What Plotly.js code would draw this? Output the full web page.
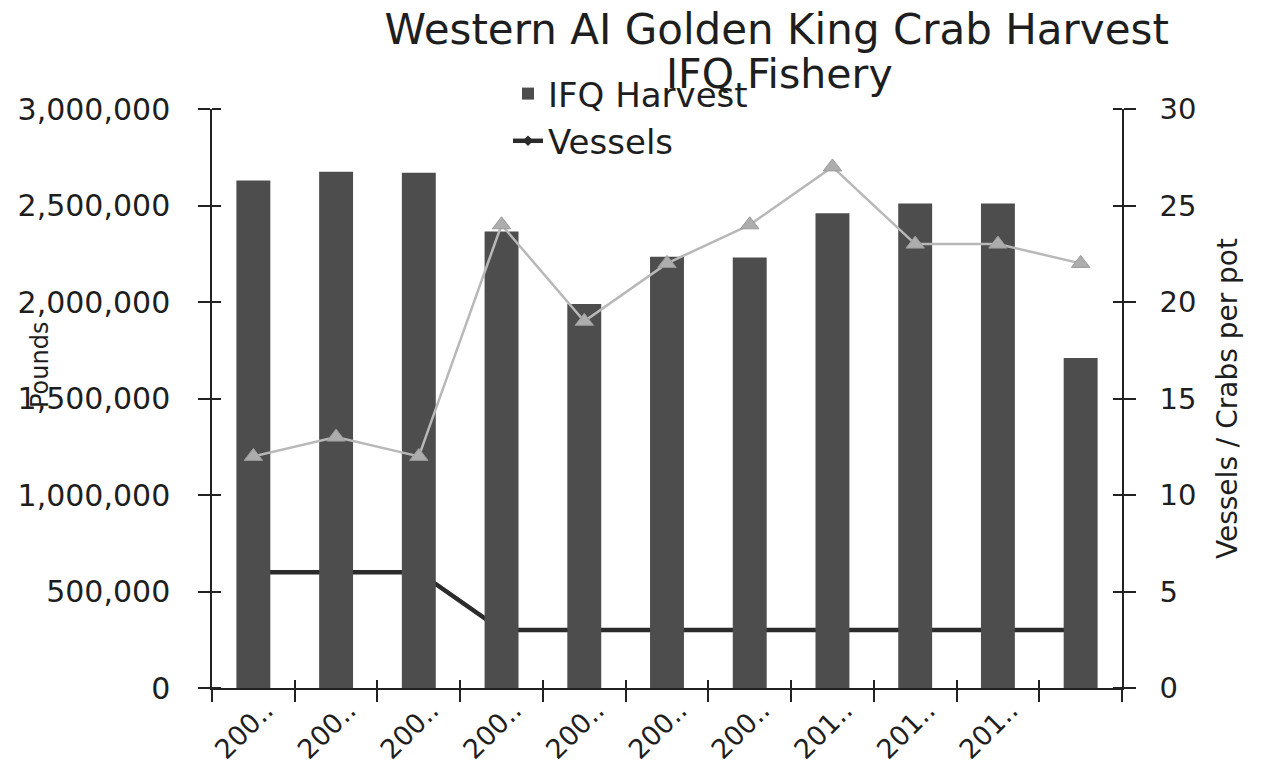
<!DOCTYPE html>
<html>
<head>
<meta charset="utf-8">
<script src="https://cdn.plot.ly/plotly-3.0.1.min.js"></script>
<style>html,body{margin:0;padding:0;background:#fff;}#chart{width:1263px;height:766px;}</style>
</head>
<body>
<div id="chart"></div>
<script>
// ---- data ----
const categories = ["200..", "200..", "200..", "200..", "200..", "200..", "200..", "201..", "201..", "201..", ""];
const harvest = [2630000, 2675000, 2670000, 2365000, 1990000, 2235000, 2230000, 2460000, 2510000, 2510000, 1710000];
const vessels = [6, 6, 6, 3, 3, 3, 3, 3, 3, 3, 3];
const crabsPerPot = [12, 13, 12, 24, 19, 22, 24, 27, 23, 23, 22];
const leftTicks = [0, 500000, 1000000, 1500000, 2000000, 2500000, 3000000];
const rightTicks = [0, 5, 10, 15, 20, 25, 30];

const xIdx = categories.map((_, i) => i);
const boundaries = categories.map((_, i) => i - 0.5).concat([categories.length - 0.5]);

const FONT = 'DejaVu Sans';
const INK = '#1e1e1e';
const AX = '#222222';

const traces = [
  {
    type: 'bar', name: 'IFQ Harvest', x: xIdx, y: harvest,
    marker: {color: '#4d4d4d', line: {width: 0}},
    xaxis: 'x', yaxis: 'y2', hoverinfo: 'skip'
  },
  {
    type: 'scatter', mode: 'lines+markers', name: 'Vessels', x: xIdx, y: vessels,
    line: {color: '#2b2b2b', width: 4.5},
    marker: {symbol: 'diamond', size: 8, color: '#2b2b2b'},
    xaxis: 'x', yaxis: 'y', hoverinfo: 'skip'
  },
  {
    type: 'scatter', mode: 'lines+markers', name: 'Crabs per pot', showlegend: false,
    x: xIdx, y: crabsPerPot,
    line: {color: '#b8b8b8', width: 2.5},
    marker: {symbol: 'triangle-up', size: 16, color: '#adadad', line: {color: '#9a9a9a', width: 1}},
    xaxis: 'x2', yaxis: 'y3', hoverinfo: 'skip'
  }
];

const tickCommon = {ticks: 'outside', ticklen: 12, tickwidth: 1.5, tickcolor: AX,
  showline: true, linecolor: AX, linewidth: 1.5, showgrid: false, zeroline: false};

const layout = {
  width: 1263, height: 766,
  margin: {l: 212, r: 141, t: 109, b: 78},
  paper_bgcolor: '#ffffff', plot_bgcolor: '#ffffff',
  font: {family: FONT, color: INK},
  title: {
    text: 'Western AI Golden King Crab Harvest',
    font: {family: FONT, size: 42, color: INK},
    xref: 'container', x: 0.615, xanchor: 'center',
    yref: 'container', y: 0.962, yanchor: 'middle'
  },
  showlegend: true,
  legend: {
    x: (508 - 212) / 910, xanchor: 'left', y: 1.076, yanchor: 'top',
    font: {family: FONT, size: 34, color: INK},
    bgcolor: 'rgba(0,0,0,0)', traceorder: 'normal'
  },
  bargap: 0.59,
  xaxis: {
    range: [-0.5, 10.5], tickmode: 'array', tickvals: xIdx, ticktext: categories,
    tickangle: -45, ticks: '', tickfont: {family: FONT, size: 27, color: INK},
    ticklabelshift: 12, ticklabelstandoff: -6,
    showline: true, linecolor: AX, linewidth: 1.5, showgrid: false, zeroline: false,
    minor: {tickmode: 'array', tickvals: boundaries, ticks: 'outside', ticklen: 12, tickcolor: AX, tickwidth: 1.5, showgrid: false}
  },
  xaxis2: {
    overlaying: 'x', anchor: 'y3', side: 'bottom', range: [-0.5, 10.5],
    tickmode: 'array', tickvals: boundaries, ticks: 'inside', ticklen: 8, tickcolor: AX, tickwidth: 1.5,
    showticklabels: false, showline: false, showgrid: false, zeroline: false
  },
  // right axis: vessels / crabs per pot
  yaxis: Object.assign({}, tickCommon, {
    side: 'right', range: [0, 30], tickmode: 'array', tickvals: rightTicks,
    tickfont: {family: FONT, size: 29, color: INK}, ticklabelstandoff: 18,
    minor: {tickmode: 'array', tickvals: rightTicks, ticks: 'inside', ticklen: 9, tickcolor: AX, tickwidth: 1.5, showgrid: false},
    title: {text: 'Vessels / Crabs per pot', font: {family: FONT, size: 28, color: INK}, standoff: 22}
  }),
  // left axis: pounds
  yaxis2: Object.assign({}, tickCommon, {
    overlaying: 'y', anchor: 'x', side: 'left',
    range: [0, 3000000], tickmode: 'array', tickvals: leftTicks, tickformat: ',d',
    tickfont: {family: FONT, size: 30, color: INK}, ticklabelstandoff: 22,
    minor: {tickmode: 'array', tickvals: leftTicks, ticks: 'inside', ticklen: 9, tickcolor: AX, tickwidth: 1.5, showgrid: false}
  }),
  yaxis3: {
    overlaying: 'y', anchor: 'x2', side: 'right', range: [0, 30],
    showticklabels: false, ticks: '', showline: false, showgrid: false, zeroline: false
  },
  annotations: [
    {
      text: 'IFQ Fishery', xref: 'paper', yref: 'paper',
      x: (779 - 212) / 910, y: (688 - 74) / 579,
      xanchor: 'center', yanchor: 'middle', showarrow: false,
      font: {family: FONT, size: 41, color: INK}
    },
    {
      text: 'Pounds', xref: 'paper', yref: 'paper',
      x: (40 - 212) / 910, y: (688 - 365) / 579,
      xanchor: 'center', yanchor: 'middle', textangle: -90, showarrow: false,
      font: {family: FONT, size: 24, color: INK}
    }
  ]
};

Plotly.newPlot('chart', traces, layout, {displayModeBar: false, responsive: false});
</script>
</body>
</html>
